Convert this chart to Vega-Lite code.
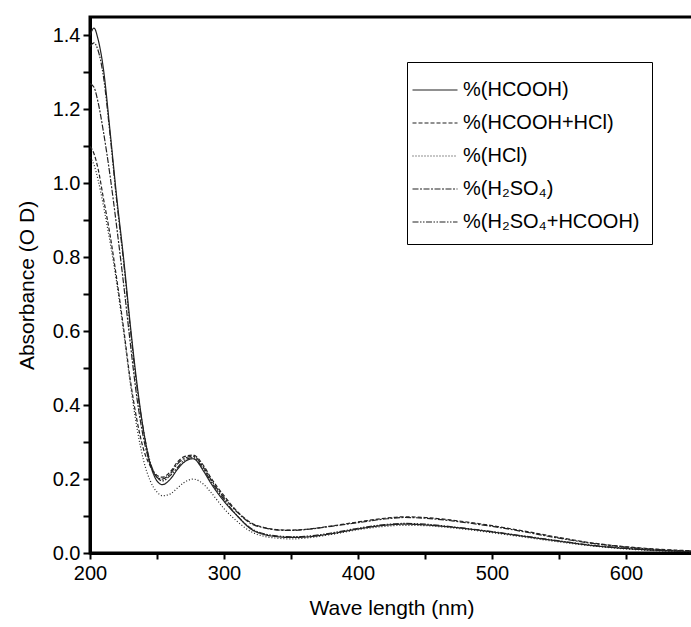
{
  "$schema": "https://vega.github.io/schema/vega-lite/v6.json",
  "autosize": "none",
  "width": 603,
  "height": 536,
  "padding": {"left": 90, "top": 17, "right": 0, "bottom": 74},
  "background": "white",
  "config": {
    "view": {"stroke": "black", "strokeWidth": 3},
    "font": "Liberation Sans"
  },
  "data": {
    "values": [
      {"w":200,"p1":1.40,"p2":1.10,"p3":1.07,"p4":1.27,"p5":1.37},
      {"w":203,"p1":1.42,"p2":1.08,"p3":1.05,"p4":1.26,"p5":1.38},
      {"w":206,"p1":1.39,"p2":1.04,"p3":1.01,"p4":1.22,"p5":1.36},
      {"w":210,"p1":1.31,"p2":0.96,"p3":0.94,"p4":1.14,"p5":1.29},
      {"w":215,"p1":1.14,"p2":0.86,"p3":0.84,"p4":1.02,"p5":1.13},
      {"w":220,"p1":0.96,"p2":0.74,"p3":0.73,"p4":0.88,"p5":0.95},
      {"w":225,"p1":0.80,"p2":0.61,"p3":0.60,"p4":0.73,"p5":0.79},
      {"w":230,"p1":0.62,"p2":0.47,"p3":0.46,"p4":0.57,"p5":0.61},
      {"w":235,"p1":0.46,"p2":0.36,"p3":0.34,"p4":0.42,"p5":0.45},
      {"w":240,"p1":0.33,"p2":0.28,"p3":0.25,"p4":0.31,"p5":0.33},
      {"w":245,"p1":0.24,"p2":0.235,"p3":0.195,"p4":0.24,"p5":0.245},
      {"w":250,"p1":0.195,"p2":0.21,"p3":0.165,"p4":0.205,"p5":0.205},
      {"w":254,"p1":0.185,"p2":0.205,"p3":0.155,"p4":0.20,"p5":0.195},
      {"w":260,"p1":0.20,"p2":0.22,"p3":0.16,"p4":0.215,"p5":0.21},
      {"w":265,"p1":0.225,"p2":0.245,"p3":0.175,"p4":0.24,"p5":0.23},
      {"w":270,"p1":0.245,"p2":0.26,"p3":0.19,"p4":0.255,"p5":0.25},
      {"w":277,"p1":0.255,"p2":0.265,"p3":0.20,"p4":0.262,"p5":0.258},
      {"w":285,"p1":0.22,"p2":0.235,"p3":0.185,"p4":0.23,"p5":0.225},
      {"w":290,"p1":0.19,"p2":0.205,"p3":0.165,"p4":0.20,"p5":0.195},
      {"w":300,"p1":0.14,"p2":0.155,"p3":0.12,"p4":0.15,"p5":0.145},
      {"w":310,"p1":0.10,"p2":0.112,"p3":0.085,"p4":0.11,"p5":0.10},
      {"w":320,"p1":0.065,"p2":0.082,"p3":0.058,"p4":0.08,"p5":0.067},
      {"w":330,"p1":0.05,"p2":0.069,"p3":0.045,"p4":0.068,"p5":0.052},
      {"w":340,"p1":0.044,"p2":0.063,"p3":0.04,"p4":0.062,"p5":0.046},
      {"w":350,"p1":0.042,"p2":0.062,"p3":0.038,"p4":0.061,"p5":0.044},
      {"w":360,"p1":0.043,"p2":0.064,"p3":0.04,"p4":0.063,"p5":0.045},
      {"w":380,"p1":0.052,"p2":0.073,"p3":0.05,"p4":0.072,"p5":0.054},
      {"w":400,"p1":0.065,"p2":0.084,"p3":0.063,"p4":0.082,"p5":0.067},
      {"w":420,"p1":0.075,"p2":0.094,"p3":0.072,"p4":0.092,"p5":0.077},
      {"w":435,"p1":0.078,"p2":0.098,"p3":0.075,"p4":0.096,"p5":0.08},
      {"w":450,"p1":0.076,"p2":0.096,"p3":0.074,"p4":0.094,"p5":0.078},
      {"w":470,"p1":0.07,"p2":0.089,"p3":0.068,"p4":0.087,"p5":0.071},
      {"w":500,"p1":0.057,"p2":0.074,"p3":0.055,"p4":0.072,"p5":0.058},
      {"w":520,"p1":0.047,"p2":0.062,"p3":0.045,"p4":0.06,"p5":0.048},
      {"w":550,"p1":0.032,"p2":0.042,"p3":0.03,"p4":0.04,"p5":0.033},
      {"w":575,"p1":0.02,"p2":0.027,"p3":0.019,"p4":0.026,"p5":0.021},
      {"w":600,"p1":0.012,"p2":0.017,"p3":0.011,"p4":0.016,"p5":0.013},
      {"w":625,"p1":0.007,"p2":0.01,"p3":0.006,"p4":0.009,"p5":0.007},
      {"w":650,"p1":0.004,"p2":0.006,"p3":0.003,"p4":0.005,"p5":0.004}
    ]
  },
  "transform": [
    {"fold": ["p1","p2","p3","p4","p5"], "as": ["s","a"]}
  ],
  "mark": {"type": "line", "interpolate": "monotone", "stroke": "#222", "strokeWidth": 1.2, "clip": true},
  "encoding": {
    "x": {
      "field": "w", "type": "quantitative",
      "scale": {"domain": [200, 650], "nice": false, "zero": false},
      "axis": {
        "title": "Wave length (nm)",
        "values": [200,250,300,350,400,450,500,550,600,650],
        "labelExpr": "datum.value % 100 == 0 ? datum.value : ''",
        "domainColor": "black", "domainWidth": 3,
        "tickColor": "black", "tickWidth": 2, "tickSize": 6,
        "labelFontSize": 20, "labelColor": "black", "labelPadding": 4,
        "titleFontSize": 21, "titleFontWeight": "normal", "titleColor": "black", "titlePadding": 14,
        "grid": false, "labelFlush": false
      }
    },
    "y": {
      "field": "a", "type": "quantitative",
      "scale": {"domain": [0, 1.45], "nice": false},
      "axis": {
        "title": "Absorbance (O D)",
        "values": [0,0.1,0.2,0.3,0.4,0.5,0.6,0.7,0.8,0.9,1.0,1.1,1.2,1.3,1.4],
        "labelExpr": "round(datum.value*10) % 2 == 0 ? format(datum.value, '.1f') : ''",
        "domainColor": "black", "domainWidth": 3,
        "tickColor": "black", "tickWidth": 2, "tickSize": 7,
        "labelFontSize": 20, "labelColor": "black", "labelPadding": 3,
        "titleFontSize": 21, "titleFontWeight": "normal", "titleColor": "black", "titlePadding": 15,
        "grid": false
      }
    },
    "strokeDash": {
      "field": "s", "type": "nominal",
      "scale": {
        "domain": ["p1","p2","p3","p4","p5"],
        "range": [[1,0],[4,2],[1,2],[6,1.5,2,1.5],[6,1.5,1.5,1.5,1.5,1.5]]
      },
      "legend": {
        "title": null,
        "orient": "none",
        "legendX": 317,
        "legendY": 45,
        "labelExpr": "{'p1':'%(HCOOH)','p2':'%(HCOOH+HCl)','p3':'%(HCl)','p4':'%(H₂SO₄)','p5':'%(H₂SO₄+HCOOH)'}[datum.value]",
        "symbolType": "M-1.5,0H1.5",
        "symbolSize": 900,
        "symbolStrokeColor": "#222",
        "symbolStrokeWidth": 1.2,
        "labelFontSize": 20,
        "labelLimit": 400,
        "labelColor": "black",
        "labelOffset": 12,
        "rowPadding": 7,
        "padding": 12,
        "strokeColor": "black",
        "fillColor": "white"
      }
    }
  }
}
